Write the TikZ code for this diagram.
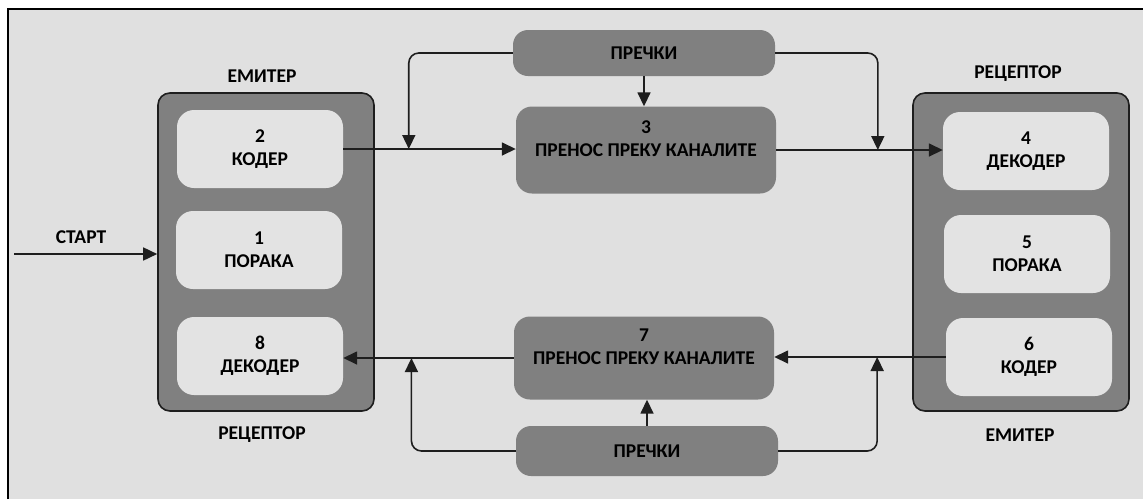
\documentclass[tikz,border=0pt]{standalone}
\usepackage{fontspec}
\setmainfont{Carlito}
\usepackage{tikz}
\usetikzlibrary{arrows.meta, positioning, calc}
\definecolor{mygray}{RGB}{128,128,128}
\definecolor{mylight}{RGB}{224,224,224}
\definecolor{myinner}{RGB}{227,227,227}
\definecolor{mydark}{RGB}{30,30,30}
\tikzset{
  unitbox/.style={rectangle, draw=mydark, fill=mygray, line width=1.6pt,
    rounded corners=12pt, minimum width=216pt, minimum height=318pt, inner sep=0pt},
  stagebox/.style={rectangle, fill=myinner, rounded corners=17pt,
    minimum width=166pt, minimum height=78pt, inner sep=0pt, align=center,
    font=\bfseries\fontsize{19.5}{23}\selectfont},
  chanbox/.style={rectangle, fill=mygray, rounded corners=16pt,
    minimum width=260pt, inner sep=0pt, align=center,
    font=\bfseries\fontsize{19.5}{23}\selectfont},
  noisebox/.style={rectangle, fill=mygray, rounded corners=15pt,
    minimum width=262pt, minimum height=46pt, inner sep=0pt,
    font=\bfseries\fontsize{19.5}{23}\selectfont},
  tag/.style={font=\bfseries\fontsize{19.5}{23}\selectfont},
  arrow/.style={-{Triangle[length=14pt, width=13pt]}, line width=1.6pt, color=mydark},
  line/.style={line width=1.6pt, color=mydark}
}

\begin{document}
\begin{tikzpicture}[x=1pt, y=-1pt]
  \useasboundingbox (0,0) rectangle (1143,499);
  \fill[mylight] (8,9) rectangle (1143,499);
  \draw[line width=2pt, black] (8,499) -- (8,9) -- (1143,9);

  % emitter / receptor units
  \node[unitbox] (unitL) at (266,252) {};
  \node[unitbox] (unitR) at (1021,252) {};
  \node[tag] (emitL) at (262,76) {ЕМИТЕР};
  \node[tag] (recL) at (262,435) {РЕЦЕПТОР};
  \node[tag] (recR) at (1018,74) {РЕЦЕПТОР};
  \node[tag] (emitR) at (1020,435) {ЕМИТЕР};

  \node[stagebox] (enc2) at (260,149) {2\\КОДЕР};
  \node[stagebox] (msg1) at (259,250) {1\\ПОРАКА};
  \node[stagebox] (dec8) at (260,356) {8\\ДЕКОДЕР};
  \node[stagebox] (dec4) at (1026,151) {4\\ДЕКОДЕР};
  \node[stagebox] (msg5) at (1027,254) {5\\ПОРАКА};
  \node[stagebox] (enc6) at (1029,357) {6\\КОДЕР};

  % channels and noise
  \node[chanbox, minimum height=87pt] (chan3) at (646,150) {3\\ПРЕНОС ПРЕКУ КАНАЛИТЕ\\\mbox{}};
  \node[chanbox, minimum height=83pt] (chan7) at (644,358) {7\\ПРЕНОС ПРЕКУ КАНАЛИТЕ\\\mbox{}};
  \node[noisebox] (noise1) at (644,53) {ПРЕЧКИ};
  \node[noisebox, minimum height=50pt] (noise2) at (647,451) {ПРЕЧКИ};

  \node[tag] (startlbl) at (81,237) {СТАРТ};
  \coordinate (start) at (14,254);

  \draw[arrow] (start) -- (start -| unitL.west);
  \draw[arrow] (enc2.east) -- (enc2.east -| chan3.west)
    coordinate[pos=0.38] (tapL1);
  \draw[arrow] (chan3.east) -- (chan3.east -| dec4.west)
    coordinate[pos=0.61] (tapR1);
  \draw[arrow] (enc6.west) -- (enc6.west -| chan7.east)
    coordinate[pos=0.4] (tapR2);
  \draw[arrow] (chan7.west) -- (chan7.west -| dec8.east)
    coordinate[pos=0.6] (tapL2);

  \draw[arrow] (noise1.south) -- (noise1.south |- chan3.north);
  \draw[arrow] (noise2.north) -- (noise2.north |- chan7.south);
  \draw[arrow, rounded corners=10pt] (noise1.west) -| (tapL1);
  \draw[arrow, rounded corners=10pt] (noise1.east) -| (tapR1);
  \draw[arrow, rounded corners=10pt] (noise2.west) -| (tapL2);
  \draw[arrow, rounded corners=10pt] (noise2.east) -| (tapR2);
\end{tikzpicture}
\end{document}
